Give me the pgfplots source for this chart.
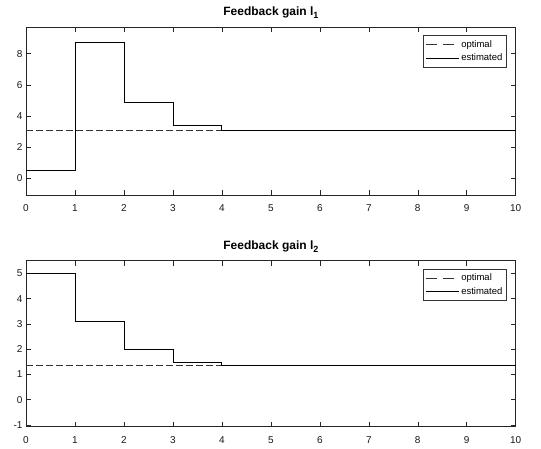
\documentclass[border=0pt]{standalone}
\usepackage{pgfplots}
\pgfplotsset{compat=1.18}
\usepackage{fontspec}
\setmainfont{Liberation Sans}
\newcommand{\sub}[1]{\raisebox{-3pt}{\fontsize{9}{10}\selectfont #1}}
\begin{document}
\begin{tikzpicture}[x=1pt,y=1pt]
\useasboundingbox (0,0) rectangle (541,-448);
\pgfplotsset{
  every axis/.style={
    scale only axis,
    width=489.7pt,
    xmin=0, xmax=10,
    xtick={0,...,10},
    tick align=inside,
    major tick length=5pt,
    axis line style={black!85, line width=0.5pt},
    every tick/.style={black!85, line width=0.5pt},
    tick label style={font=\fontsize{10}{12}\selectfont, black!90},
    /pgf/number format/assume math mode=true,
    title style={font=\bfseries\fontsize{12}{14}\selectfont, yshift=-1pt},
    legend style={at={(1,1)}, anchor=north east, xshift=-9pt, yshift=-8pt,
      font=\fontsize{9.5}{11}\selectfont, draw=black!80, line width=0.5pt,
      inner xsep=2pt, inner ysep=3pt, row sep=1pt},
    legend cell align=left,
    legend image code/.code={\draw[#1] (0pt,0pt) -- (33pt,0pt);},
    xticklabel style={yshift=-6pt},
  },
  optline/.style={black!80, line width=0.6pt, dash pattern=on 6.5pt off 3.5pt,
    legend image code/.code={\draw[##1, dash pattern=on 11pt off 6.5pt] (0pt,0pt) -- (33pt,0pt);}},
  estline/.style={black, line width=0.8pt, const plot},
}
\begin{axis}[
  at={(26pt,-27.3pt)}, anchor=north west,
  height=167.7pt,
  ymin=-1.07, ymax=9.69,
  ytick={0,2,4,6,8},
  title={Feedback gain l\sub{1}},
]
\addplot[optline] coordinates {(0,3.06) (10,3.06)};
\addlegendentry{optimal}
\addplot[estline] coordinates {(0,0.51) (1,8.73) (2,4.88) (3,3.40) (4,3.08) (10,3.08)};
\addlegendentry{estimated}
\end{axis}
\begin{axis}[
  at={(26pt,-260.7pt)}, anchor=north west,
  height=166pt,
  ymin=-1.07, ymax=5.5,
  ytick={-1,0,1,2,3,4,5},
  title={Feedback gain l\sub{2}},
]
\addplot[optline] coordinates {(0,1.35) (10,1.35)};
\addlegendentry{optimal}
\addplot[estline] coordinates {(0,5.0) (1,3.11) (2,2.0) (3,1.47) (4,1.36) (10,1.36)};
\addlegendentry{estimated}
\end{axis}
\end{tikzpicture}
\end{document}
